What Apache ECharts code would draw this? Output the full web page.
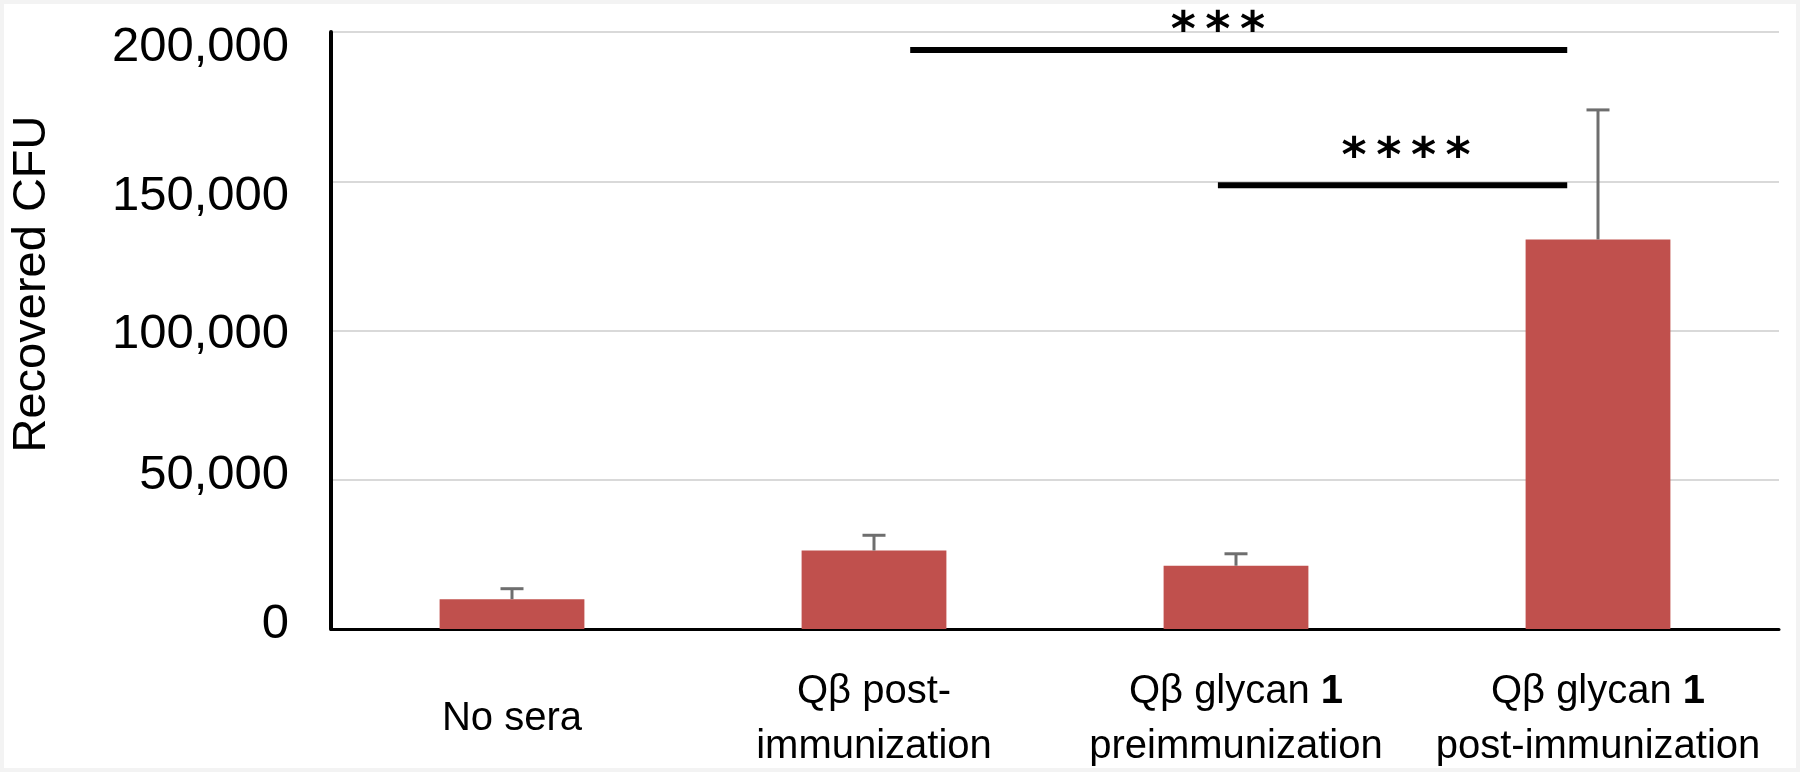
<!DOCTYPE html>
<html>
<head>
<meta charset="utf-8">
<script src="https://cdn.jsdelivr.net/npm/echarts@6/dist/echarts.min.js"></script>
<style>
  html, body { margin: 0; padding: 0; background: #ffffff; }
  #chart { position: absolute; left: 0; top: 0; width: 1800px; height: 772px; }
  #frame {
    position: absolute; left: 0; top: 0; width: 1800px; height: 772px;
    box-sizing: border-box; border: 4px solid #f3f3f3; pointer-events: none;
  }
</style>
</head>
<body>
<div id="chart"></div>
<div id="frame"></div>
<script>
// categories and values
var categories = ["No sera", "Qβ post-\nimmunization", "Qβ glycan 1\npreimmunization", "Qβ glycan 1\npost-immunization"];
var cfuMean = [10000, 26300, 21200, 130500];
var cfuErrTop = [13500, 31400, 25200, 173900];

// significance brackets (x in category units, 0 = first category centre)
var bracketFrom = [1.1, 1.95];
var bracketTo = [2.915, 2.915];
var bracketY = [194000, 148700];
var bracketLabel = ["***", "****"];
var bracketLabelX = [1.95, 2.47];
var bracketLabelY = [199800, 157600];

var FONT = "Liberation Sans";

// excel put the y labels slightly off the gridlines
var yLabelPad = {
  0: [0, 0, 10, 0],
  50000: [0, 0, 8, 0],
  100000: [8, 0, 0, 0],
  150000: [30, 0, 0, 0],
  200000: [31, 0, 0, 0]
};

var chart = echarts.init(document.getElementById("chart"));

var yRich = {};
Object.keys(yLabelPad).forEach(function (k) {
  yRich["v" + k] = { fontSize: 49, fontFamily: FONT, color: "#000", padding: yLabelPad[k] };
});

chart.setOption({
  animation: false,
  grid: { left: 331, right: 21, top: 32, bottom: 143, containLabel: false, outerBoundsMode: "none" },
  xAxis: {
    type: "category",
    data: categories,
    axisLine: { lineStyle: { color: "#000", width: 3 } },
    axisTick: { show: false },
    axisLabel: {
      interval: 0,
      margin: 90,
      verticalAlign: "middle",
      color: "#000",
      fontSize: 40,
      lineHeight: 55,
      fontFamily: FONT,
      formatter: function (v) {
        return v.replace(" 1\n", " {b|1}\n");
      },
      rich: {
        b: { fontWeight: "bold", fontSize: 40, lineHeight: 55, fontFamily: FONT, color: "#000" }
      }
    }
  },
  yAxis: {
    type: "value",
    min: 0,
    max: 200000,
    interval: 50000,
    name: "Recovered CFU",
    nameLocation: "middle",
    nameRotate: 90,
    nameGap: 275,
    nameTextStyle: { fontSize: 47, fontFamily: FONT, color: "#000", padding: [0, 0, 0, 93] },
    axisLine: { show: true, lineStyle: { color: "#000", width: 4 } },
    axisTick: { show: false },
    splitLine: { lineStyle: { color: "#d9d9d9", width: 2 } },
    axisLabel: {
      margin: 42,
      color: "#000",
      fontSize: 49,
      fontFamily: FONT,
      formatter: function (v) {
        return "{v" + v + "|" + v.toLocaleString("en-US") + "}";
      },
      rich: yRich
    }
  },
  series: [
    {
      type: "bar",
      data: cfuMean,
      barWidth: "40%",
      itemStyle: { color: "#c0504d" },
      z: 2
    },
    {
      type: "custom",
      z: 3,
      data: cfuMean.map(function (v, i) { return [i, v, cfuErrTop[i]]; }),
      renderItem: function (params, api) {
        var base = api.coord([api.value(0), api.value(1)]);
        var top = api.coord([api.value(0), api.value(2)]);
        var style = { stroke: "#6e6e6e", lineWidth: 3 };
        return {
          type: "group",
          children: [
            { type: "line", shape: { x1: base[0], y1: base[1], x2: top[0], y2: top[1] }, style: style },
            { type: "line", shape: { x1: top[0] - 11.5, y1: top[1], x2: top[0] + 11.5, y2: top[1] }, style: style }
          ]
        };
      }
    },
    {
      type: "custom",
      z: 4,
      clip: false,
      data: bracketY.map(function (y, i) {
        return [bracketFrom[i], bracketTo[i], y, bracketLabelX[i], bracketLabelY[i]];
      }),
      renderItem: function (params, api) {
        var c0 = api.coord([0, api.value(2)]);
        var band = api.size([1, 0])[0];
        var i = params.dataIndex;
        var lab = api.coord([0, api.value(4)]);
        return {
          type: "group",
          children: [
            {
              type: "line",
              shape: { x1: c0[0] + api.value(0) * band, y1: c0[1], x2: c0[0] + api.value(1) * band, y2: c0[1] },
              style: { stroke: "#000", lineWidth: 6 }
            },
            {
              type: "text",
              style: {
                text: bracketLabel[i].split("").join("\u2009"),
                x: c0[0] + api.value(3) * band,
                y: lab[1],
                fill: "#000",
                fontSize: 48,
                fontWeight: "bold",
                fontFamily: "DejaVu Sans",
                align: "center",
                verticalAlign: "middle"
              }
            }
          ]
        };
      }
    }
  ]
});
</script>
</body>
</html>
